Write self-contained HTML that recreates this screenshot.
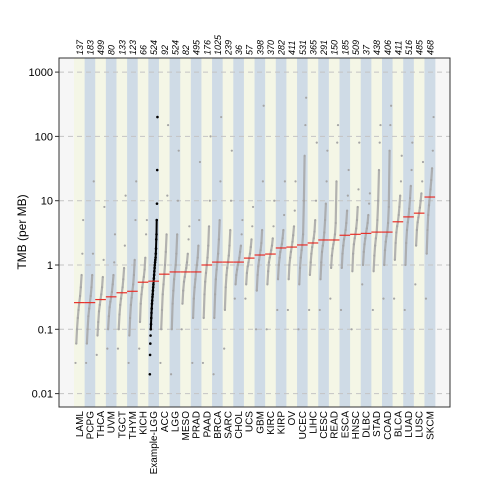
<!DOCTYPE html>
<html><head><meta charset="utf-8"><style>
body{margin:0;background:#fff;}
svg{display:block;font-family:"Liberation Sans",sans-serif;}
</style></head><body>
<svg id="chart" width="480" height="480">
<rect x="0" y="0" width="480" height="480" fill="#fff"/>
<rect x="59" y="58" width="391" height="349" fill="#f6f6f6"/>
<g id="stripes"></g>
<g id="grid"></g>
<g id="pts"></g>
<g id="meds"></g>
<rect x="59" y="58" width="391" height="349" fill="none" stroke="#333" stroke-width="1"/>
<g id="yticks"></g>
<g id="xlabels"></g>
<g id="counts"></g>
<text x="26" y="232" font-size="12" text-anchor="middle" transform="rotate(-90 26 232)" fill="#000">TMB (per MB)</text>
</svg>
<script>
const cohorts=["LAML","PCPG","THCA","UVM","TGCT","THYM","KICH","Example-LGG","ACC","LGG","MESO","PRAD","PAAD","BRCA","SARC","CHOL","UCS","GBM","KIRC","KIRP","OV","UCEC","LIHC","CESC","READ","ESCA","HNSC","DLBC","STAD","COAD","BLCA","LUAD","LUSC","SKCM"];
const counts=["137","183","499","80","133","123","66","524","92","524","82","495","176","1025","239","36","57","398","370","282","411","531","365","291","150","185","509","37","438","406","411","516","485","468"];
const medians=[0.26,0.26,0.29,0.32,0.37,0.39,0.54,0.56,0.72,0.78,0.78,0.78,1.0,1.11,1.11,1.11,1.28,1.43,1.48,1.84,1.9,2.05,2.2,2.45,2.45,2.9,3.0,3.1,3.25,3.25,4.7,5.6,6.4,11.4];
const tickVals=[0.01,0.1,1,10,100,1000];
const tickLabels=["0.01","0.1","1","10","100","1000"];
const samples=[
[.03,.06,.1,.15,.2,.26,.33,.45,.7,1.5,5],
[.03,.06,.1,.16,.21,.26,.33,.45,.7,1.5,20],
[.04,.08,.13,.19,.24,.29,.35,.45,.65,1.2,8],
[.05,.1,.16,.22,.27,.32,.38,.5,.7,1.1,3],
[.05,.1,.17,.24,.3,.37,.45,.6,.9,2,12],
[.03,.08,.15,.24,.31,.39,.5,.7,1.2,5,20],
[.05,.13,.25,.35,.45,.54,.65,.85,1.3,3,5],
[.02,.04,.06,.08,.1,.12,.15,.18,.21,.25,.28,.32,.35,.4,.45,.5,.56,.62,.7,.8,.9,1.0,1.1,1.2,1.3,1.5,1.8,2.5,3,5,9,30,200],
[.03,.1,.2,.35,.5,.72,1,1.6,3,12,150],
[.02,.1,.25,.4,.6,.78,1,1.5,3,10,60],
[.1,.25,.4,.55,.65,.78,.9,1.1,1.5,2.5,4],
[.03,.15,.3,.45,.6,.78,1,1.3,2,5,40],
[.03,.15,.35,.55,.75,1,1.3,2,4,10,100],
[.02,.15,.35,.6,.85,1.11,1.5,2.5,5,20,200],
[.05,.2,.45,.7,.9,1.11,1.4,2,3.5,10,60],
[.3,.5,.7,.85,1,1.11,1.3,1.6,2,3,5],
[.3,.5,.75,.95,1.1,1.28,1.5,1.9,2.5,4,8],
[.1,.4,.7,.95,1.2,1.43,1.7,2.2,3.5,20,300],
[.1,.5,.8,1.1,1.3,1.48,1.7,2,2.6,4,10],
[.2,.6,1,1.3,1.6,1.84,2.1,2.6,3.5,6,20],
[.2,.6,1,1.3,1.6,1.9,2.3,2.9,4,7,20],
[.1,.5,.9,1.3,1.7,2.05,3,10,50,150,400],
[.2,.7,1.1,1.5,1.9,2.2,2.6,3.3,5,10,80],
[.2,.6,1.1,1.6,2,2.45,3.2,5,9,20,60],
[.3,.9,1.4,1.8,2.1,2.45,3,4.5,20,80,150],
[.2,.9,1.5,2,2.5,2.9,3.5,4.5,7,12,30],
[.1,.8,1.5,2.1,2.6,3,3.7,5,8,15,80],
[.5,1,1.6,2.1,2.6,3.1,3.7,4.5,6,9,13],
[.2,.8,1.4,2,2.6,3.25,5,10,30,80,150],
[.3,1,1.7,2.3,2.8,3.25,4.5,8,60,150,300],
[.3,1.2,2.2,3.2,4,4.7,6,8,12,20,50],
[.2,1,2.2,3.5,4.6,5.6,7.5,11,17,30,80],
[.5,2,3.5,4.6,5.5,6.4,7.8,10,13,20,40],
[.3,1.5,3.5,6,8.5,11.4,15,21,32,60,200]
];
const NS="http://www.w3.org/2000/svg";
const X0=74, CW=10.62, PL=59, PR=450;
function yScale(v){return 265-64.3*Math.log10(v);}
function xLeft(i){return X0+CW*i;}
function mk(tag,attrs,parent){const e=document.createElementNS(NS,tag);for(const k in attrs)e.setAttribute(k,attrs[k]);parent.appendChild(e);return e;}
const gS=document.getElementById('stripes'),gG=document.getElementById('grid'),gP=document.getElementById('pts'),gM=document.getElementById('meds'),gY=document.getElementById('yticks'),gX=document.getElementById('xlabels'),gC=document.getElementById('counts');
cohorts.forEach((c,i)=>{
  const r=mk('rect',{x:xLeft(i),y:58,width:CW+0.3,height:349,fill:i%2?'#cfdbe6':'#f4f6e6'},gS);
  
  
});
tickVals.forEach((v,k)=>{
  const y=yScale(v);
  const l=mk('line',{x1:PL,x2:PR,y1:y,y2:y,stroke:'#c4c4c4','stroke-width':1,'stroke-dasharray':'5,4'},gG);
  
  
  const tk=mk('line',{x1:PL-4,x2:PL,y1:y,y2:y,stroke:'#333'},gY);
  
  
  const t=mk('text',{x:PL-6,y:y+4,'font-size':11,'text-anchor':'end',fill:'#000'},gY);
  t.textContent=tickLabels[k];
  
  
});
samples.forEach((arr,i)=>{
  const s=arr.slice().sort((a,b)=>a-b);
  const black=cohorts[i]==='Example-LGG';
  const col=black?'#000':'#a6a6a6';
  const n=s.length, x0=xLeft(i)+1.5, x1=xLeft(i)+CW-1.5;
  const xs=s.map((v,j)=>x0+(x1-x0)*(n>1?j/(n-1):0.5));
  const lo=black?4:1, hi=black?n-4:n-3;
  let pts=[];
  for(let j=lo;j<=hi;j++) pts.push(xs[j].toFixed(1)+','+yScale(s[j]).toFixed(1));
  const pl=mk('polyline',{points:pts.join(' '),fill:'none',stroke:col,'stroke-width':black?2:2.2,opacity:black?1:0.85},gP);
  
  
  s.forEach((v,j)=>{
    const d=mk('circle',{cx:xs[j],cy:yScale(v),r:black?1.3:1.1,fill:col},gP);
    
    
  });
  const y=yScale(medians[i]);
  const m=mk('line',{x1:xLeft(i),x2:xLeft(i)+CW,y1:y,y2:y,stroke:'#e8302a','stroke-width':1.2},gM);
  
  
  const cx=xLeft(i)+CW/2+3.5;
  const t=mk('text',{x:cx,y:411,'font-size':10,'text-anchor':'end',transform:`rotate(-90 ${cx} 411)`,fill:'#000'},gX);
  t.textContent=cohorts[i];
  
  
  const t2=mk('text',{x:cx,y:55,'font-size':9,'font-style':'italic','text-anchor':'start',transform:`rotate(-90 ${cx} 55)`,fill:'#000'},gC);
  t2.textContent=counts[i];
  
  
});
</script>
</body></html>
